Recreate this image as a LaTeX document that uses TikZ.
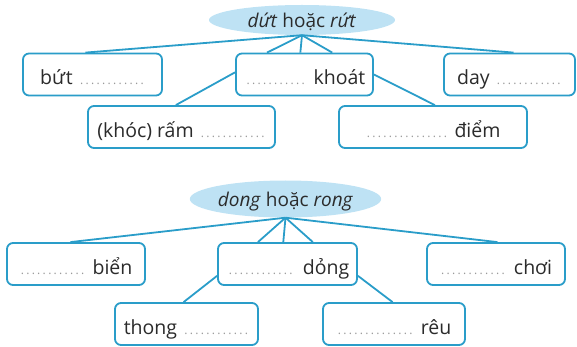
\documentclass[tikz,border=0pt]{standalone}
\usepackage{fontspec}
\setmainfont{Open Sans}
\usetikzlibrary{shapes.geometric,calc}
\definecolor{boxc}{HTML}{2A9DC9}
\definecolor{ellc}{HTML}{BEE2F4}
\definecolor{txtc}{HTML}{2B2B2B}
\definecolor{dotc}{HTML}{9A9A9A}
\newcommand\dts[1]{{\color{dotc}\fontsize{12}{12}\selectfont\cleaders\hbox to 5.5pt{\hss.\hss}\hskip #1pt\relax}}
\begin{document}
\begin{tikzpicture}[x=1pt,y=-1pt,
  wbox/.style={draw=boxc,line width=1.8pt,rounded corners=6pt,fill=white,minimum height=42pt,inner sep=0pt,text height=20.5pt,text depth=0pt,font=\fontsize{19.5}{22}\selectfont,text=txtc},
  hubell/.style={ellipse,fill=ellc,inner sep=0pt,font=\fontsize{19}{22}\selectfont,text=txtc,text height=16pt,text depth=0pt},
  link/.style={draw=boxc,line width=1.8pt}]
\useasboundingbox (0,0) rectangle (577,347);
% top group
\node[hubell,minimum width=186pt,minimum height=30pt] (e1) at (302,20) {\textit{dứt} hoặc \textit{rứt}};
\node[wbox,minimum width=139pt] (b1) at (92.5,74.5) {bứt\hspace{6pt}\dts{66}};
\node[wbox,minimum width=137pt] (b2) at (304.5,74.5) {\dts{64}\hspace{6pt}khoát};
\node[wbox,minimum width=131pt] (b3) at (509.5,74.5) {day\hspace{6pt}\dts{66}};
\node[wbox,minimum width=187pt] (b4) at (181.5,127) {(khóc) rấm\hspace{6pt}\dts{66}};
\node[wbox,minimum width=188pt] (b5) at (433,127) {\dts{83}\hspace{6pt}điểm};
\draw[link] (e1.south) -- ($(b1.north west)!0.45!(b1.north east)$);
\draw[link] (e1.south) -- ($(b2.north west)!0.23!(b2.north east)$);
\draw[link] (e1.south) -- ($(b2.north west)!0.47!(b2.north east)$);
\draw[link] (e1.south) -- ($(b2.north west)!0.70!(b2.north east)$);
\draw[link] (e1.south) -- ($(b3.north west)!0.53!(b3.north east)$);
\draw[link] ($(b2.north west)!0.45!(b2.south west)$) -- ($(b4.north west)!0.47!(b4.north east)$);
\draw[link] ($(b2.north east)!0.5!(b2.south east)$) -- ($(b5.north west)!0.51!(b5.north east)$);
% bottom group
\node[hubell,minimum width=185pt,minimum height=37pt] (e2) at (285.5,199) {\textit{dong} hoặc \textit{rong}};
\node[wbox,minimum width=138pt] (c1) at (76,264) {\dts{66}\hspace{7pt}biển};
\node[wbox,minimum width=139pt] (c2) at (287.5,264) {\dts{70}\hspace{7pt}dỏng};
\node[wbox,minimum width=138pt] (c3) at (496,264) {\dts{66}\hspace{8pt}chơi};
\node[wbox,minimum width=143pt] (c4) at (186.5,324) {thong\hspace{6pt}\dts{66}};
\node[wbox,minimum width=142pt] (c5) at (394,324) {\dts{77}\hspace{7pt}rêu};
\draw[link] (e2.south) -- ($(c1.north west)!0.46!(c1.north east)$);
\draw[link] (e2.south) -- ($(c2.north west)!0.29!(c2.north east)$);
\draw[link] (e2.south) -- ($(c2.north west)!0.47!(c2.north east)$);
\draw[link] (e2.south) -- ($(c2.north west)!0.68!(c2.north east)$);
\draw[link] (e2.south) -- ($(c3.north west)!0.51!(c3.north east)$);
\draw[link] ($(c2.north west)!0.77!(c2.south west)$) -- ($(c4.north west)!0.48!(c4.north east)$);
\draw[link] ($(c2.north east)!0.77!(c2.south east)$) -- ($(c5.north west)!0.49!(c5.north east)$);
\end{tikzpicture}
\end{document}
